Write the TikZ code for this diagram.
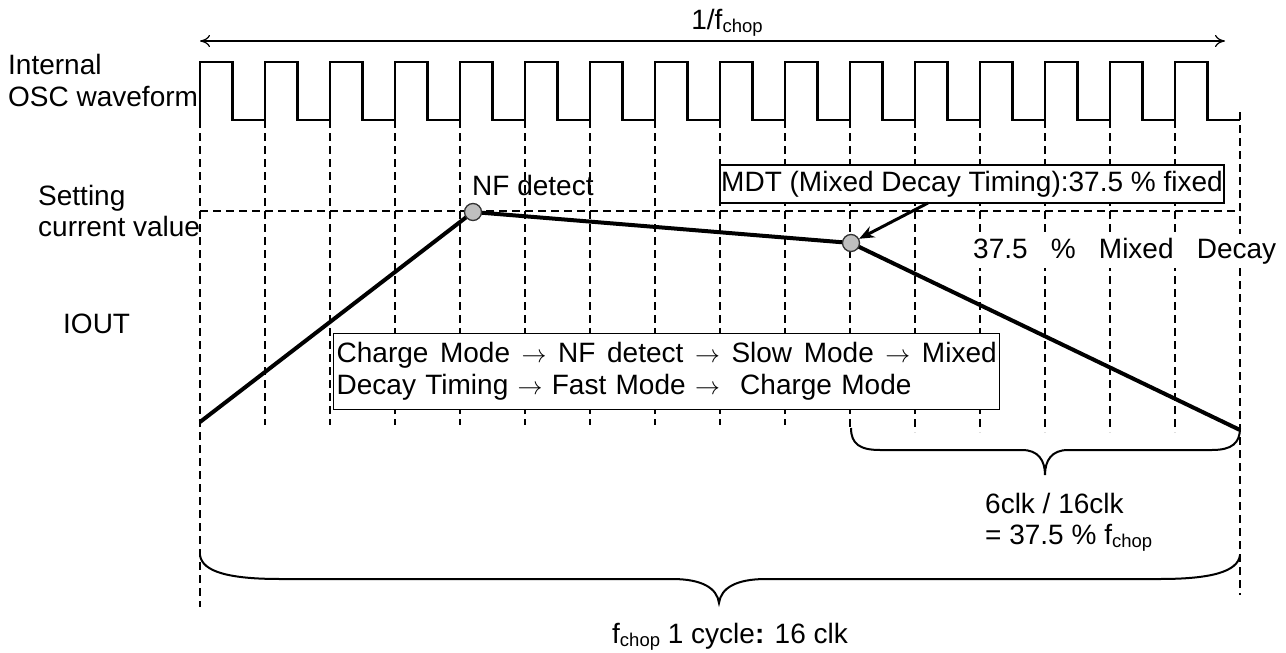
\documentclass[tikz,border=0pt]{standalone}
\usepackage{fontspec}
\setmainfont{Liberation Sans}
\usetikzlibrary{arrows.meta,calc}
\newcommand{\chopsub}{\raisebox{-3pt}{\fontsize{18.5}{18.5}\selectfont chop}}
\newcommand{\gap}{\hspace{4pt plus 1fil}}
\begin{document}
\begin{tikzpicture}[x=1pt,y=-1pt,
  every node/.style={font=\fontsize{28}{32}\selectfont, inner sep=0pt},
  lbl/.style={anchor=base west},
  grid/.style={dash pattern=on 8pt off 5pt, line width=1.1pt},
  wave/.style={line width=2.5pt, line join=miter},
  iout/.style={line width=4pt, line join=round},
  dot/.style={circle, draw=black!80, line width=1.3pt, fill=black!25, minimum size=17pt},
  framebox/.style={draw, line width=1.3pt, fill=white},
  brace/.style={line width=2pt},
  span/.style={line width=1.2pt, {To[length=10pt,width=12pt]}-{To[length=10pt,width=12pt]}},
  pointer/.style={line width=3pt, -{Stealth[length=15pt,width=12pt]}}]
\useasboundingbox (0,0) rectangle (1286,653);

% grid lines
\draw[grid] (200,120) -- (200,607);
\foreach \i in {1,...,9} \draw[grid] ({200+65*\i},120) -- ({200+65*\i},425);
\draw[grid] (850,120) -- (850,428);
\foreach \i in {11,...,15} \draw[grid] ({200+65*\i},120) -- ({200+65*\i},432);
\draw[grid] (1240,112) -- (1240,595);
\draw[grid] (200,211) -- (1240,211);

% oscillator waveform
\draw[wave] (200,120) foreach \i in {0,...,15} { -- ({200+65*\i},62) -- ({232.5+65*\i},62) -- ({232.5+65*\i},120) -- ({265+65*\i},120) };

% top span arrow
\coordinate (spanL) at (200,41);
\coordinate (spanR) at (1225,41);
\draw[span] (spanL) -- (spanR);
\node[anchor=base] (period) at (727,29) {1/f\chopsub};

% left labels
\node[lbl] (int1) at (8,74) {Internal};
\node[lbl] (int2) at (8,106) {OSC waveform};
\node[lbl] (set1) at (38,205) {Setting};
\node[lbl] (set2) at (38,236) {current value};
\node[lbl] (ioutlbl) at (63,333) {IOUT};

% boxes and texts
\node[framebox, minimum width=504pt, minimum height=38pt] (mdt) at (972,184) {MDT (Mixed Decay Timing):37.5 \% fixed};
\node[lbl, fill=white, inner sep=4pt] (mixdecay) at (969,258) {\hbox to 303pt{37.5\gap\%\gap Mixed\gap Decay}};
\node[framebox, anchor=north west, text width=660pt, minimum height=76pt, inner xsep=3pt, align=left] (modes) at (333,333)
  {\hbox to 660pt{Charge\gap Mode\gap$\rightarrow$\gap NF\gap detect\gap$\rightarrow$\gap Slow\gap Mode\gap$\rightarrow$\gap Mixed}\\
   Decay Timing $\rightarrow$ Fast Mode $\rightarrow$\hspace{11pt} Charge Mode};
\node[lbl] (nfdet) at (472,195) {NF detect};

% output current
\coordinate (c0) at (200,422);
\coordinate (c1) at (473,212);
\coordinate (c2) at (851,243);
\coordinate (c3) at (1240,430);
\draw[iout] (c0) -- (c1) -- (c2) -- (c3);
\node[dot] (p1) at (c1) {};
\node[dot] (p2) at (c2) {};
\coordinate (mdtfoot) at (928,203);
\draw[pointer] (mdtfoot) -- (p2);

% braces
\draw[brace] (851,428) .. controls (851,444) and (860,450) .. (880,450) -- (1022,450)
  .. controls (1038,450) and (1045,460) .. (1045,475)
  .. controls (1045,460) and (1052,450) .. (1068,450) -- (1212,450)
  .. controls (1232,450) and (1240,443) .. (1240,428);
\draw[brace] (200,555) .. controls (202,572) and (230,579) .. (280,579) -- (672,579)
  .. controls (702,579) and (717,588) .. (719,603)
  .. controls (721,588) and (736,579) .. (766,579) -- (1160,579)
  .. controls (1210,579) and (1238,572) .. (1240,555);

% brace labels
\node[lbl] (ratio1) at (985,513) {6clk / 16clk};
\node[lbl] (ratio2) at (985,544) {= 37.5 \% f\chopsub};
\node[lbl] (cycle) at (612,643) {f\chopsub{} 1 cycle{\bfseries :} 16 clk};
\end{tikzpicture}
\end{document}
